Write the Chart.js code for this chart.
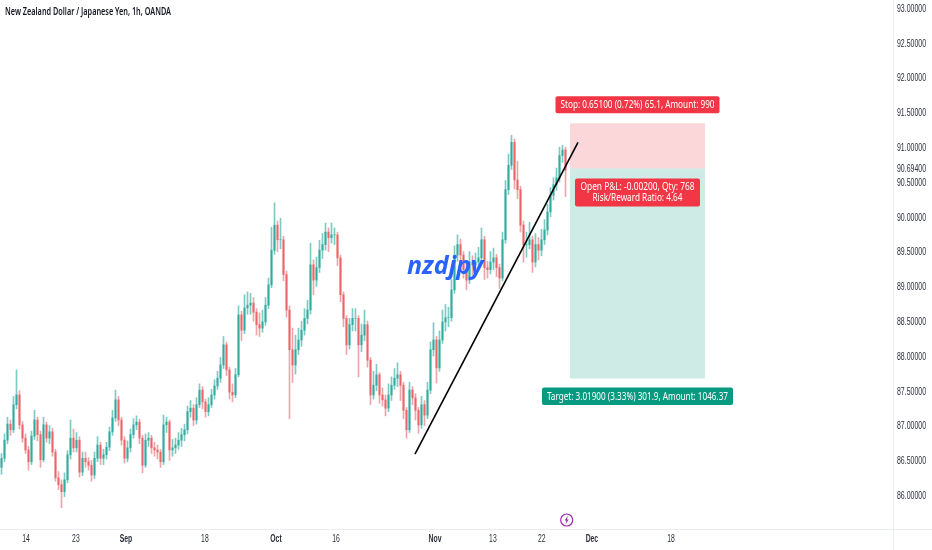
<!DOCTYPE html>
<html>
<head>
<meta charset="utf-8">
<style>
html, body { margin: 0; padding: 0; background: #fff; }
canvas { display: block; filter: blur(0.3px); }
</style>
<script src="https://cdn.jsdelivr.net/npm/chart.js@4/dist/chart.umd.min.js"></script>
</head>
<body>
<canvas id="chart" width="932" height="550"></canvas>
<script>
// hourly candles squeezed into one value per 3px
const opens = [
86.40,86.53,86.79,87.02,86.94,87.30,87.44,87.01,86.82,86.65,86.48,86.85,87.08,86.87,86.51,87.01,86.82,86.91,86.62,86.25,
86.15,86.05,86.22,86.58,86.82,86.68,86.79,86.33,86.53,86.48,86.43,86.29,86.53,86.72,86.53,86.58,86.69,86.91,87.11,87.37,
87.08,86.79,86.53,86.68,86.87,87.01,87.05,86.82,86.43,86.79,86.82,86.68,86.65,86.62,86.48,87.01,87.05,86.65,86.68,86.72,
86.79,86.87,86.94,87.20,87.25,87.08,87.30,87.51,87.34,87.20,87.30,87.44,87.57,87.68,87.87,88.16,87.80,87.48,87.44,87.73,
88.59,88.37,88.69,88.73,88.76,88.63,88.45,88.40,88.49,88.73,89.02,89.52,89.88,89.67,89.67,89.17,88.66,88.09,87.87,88.09,
88.23,88.37,88.54,88.66,89.31,89.09,89.27,89.52,89.60,89.78,89.70,89.74,89.74,89.41,88.88,88.54,88.16,88.45,88.54,88.54,
88.16,88.30,88.45,87.94,87.44,87.58,87.73,87.44,87.37,87.25,87.44,87.58,87.68,87.73,87.58,87.22,86.94,87.51,87.40,87.22,
87.01,87.30,87.15,87.51,88.09,88.23,87.83,88.23,88.49,88.55,88.55,88.95,89.45,89.60,89.45,89.24,89.09,89.35,89.31,89.35,
89.41,89.67,89.27,89.24,89.35,89.41,89.27,89.12,89.67,90.39,90.74,91.07,90.53,90.39,89.88,89.60,89.60,89.67,89.35,89.60,
89.52,89.67,89.81,90.07,90.31,90.46,90.56,90.88,90.96
];
const closes = [
86.53,86.79,87.02,86.94,87.30,87.44,87.01,86.82,86.65,86.48,86.85,87.08,86.87,86.51,87.01,86.82,86.91,86.62,86.25,86.15,
86.05,86.22,86.58,86.82,86.68,86.79,86.33,86.53,86.48,86.43,86.29,86.53,86.72,86.53,86.58,86.69,86.91,87.11,87.37,87.08,
86.79,86.53,86.68,86.87,87.01,87.05,86.82,86.43,86.79,86.82,86.68,86.65,86.62,86.48,87.01,87.05,86.65,86.68,86.72,86.79,
86.87,86.94,87.20,87.25,87.08,87.30,87.51,87.34,87.20,87.30,87.44,87.57,87.68,87.87,88.16,87.80,87.48,87.44,87.73,88.59,
88.37,88.69,88.73,88.76,88.63,88.45,88.40,88.49,88.73,89.02,89.52,89.88,89.67,89.67,89.17,88.66,88.09,87.87,88.09,88.23,
88.37,88.54,88.66,89.31,89.09,89.27,89.52,89.60,89.78,89.70,89.74,89.74,89.41,88.88,88.54,88.16,88.45,88.54,88.54,88.16,
88.30,88.45,87.94,87.44,87.58,87.73,87.44,87.37,87.25,87.44,87.58,87.68,87.73,87.58,87.22,86.94,87.51,87.40,87.22,87.01,
87.30,87.15,87.51,88.09,88.23,87.83,88.23,88.49,88.55,88.55,88.95,89.45,89.60,89.45,89.24,89.09,89.35,89.31,89.35,89.41,
89.67,89.27,89.24,89.35,89.41,89.27,89.12,89.67,90.39,90.74,91.07,90.53,90.39,89.88,89.60,89.60,89.67,89.35,89.60,89.52,
89.67,89.81,90.07,90.31,90.46,90.56,90.88,90.96,90.67
];
const highs = [
86.60,86.88,87.12,87.08,87.42,87.80,87.50,87.06,86.88,86.70,86.92,87.22,87.12,86.92,87.12,87.05,87.00,86.96,86.66,86.34,
86.22,86.32,86.64,87.08,86.95,86.90,86.84,86.62,86.62,86.54,86.50,86.62,86.84,86.76,86.66,86.76,86.98,87.22,87.51,87.42,
87.12,86.84,86.78,86.95,87.10,87.14,87.09,86.86,86.88,86.90,86.86,86.76,86.72,86.66,87.15,87.12,87.08,86.80,86.82,86.90,
86.96,87.02,87.28,87.36,87.30,87.40,87.60,87.56,87.38,87.40,87.52,87.66,87.78,87.98,88.28,88.20,87.84,87.60,87.82,88.72,
88.64,88.88,88.92,88.90,88.84,88.68,88.62,88.66,88.84,89.12,89.85,90.20,89.94,89.98,89.72,89.22,88.72,88.40,88.30,88.40,
88.50,88.68,88.80,89.62,89.38,89.42,89.66,89.76,89.91,89.84,89.91,89.84,89.78,89.45,88.92,88.58,88.54,88.68,88.68,88.58,
88.46,88.66,88.50,87.98,87.78,87.88,87.76,87.54,87.44,87.60,87.70,87.82,87.90,87.78,87.62,87.26,87.62,87.56,87.46,87.26,
87.42,87.36,87.62,88.20,88.48,88.28,88.36,88.66,88.74,88.70,89.10,89.58,89.74,89.68,89.50,89.32,89.50,89.44,89.48,89.56,
89.84,89.72,89.36,89.50,89.55,89.46,89.32,89.78,90.52,90.90,91.17,91.12,90.80,90.44,89.94,89.78,89.92,89.72,89.76,89.70,
89.82,89.96,90.18,90.42,90.56,90.70,91.00,91.03,91.00
];
const lows = [
86.30,86.48,86.74,86.86,86.90,87.24,86.95,86.76,86.60,86.36,86.44,86.80,86.78,86.40,86.48,86.76,86.74,86.56,86.20,86.08,
85.82,85.98,86.18,86.52,86.62,86.62,86.26,86.28,86.40,86.36,86.20,86.24,86.48,86.44,86.44,86.52,86.64,86.86,87.06,87.00,
86.72,86.46,86.48,86.62,86.82,86.94,86.74,86.32,86.40,86.70,86.60,86.56,86.52,86.40,86.44,86.90,86.50,86.56,86.60,86.66,
86.70,86.78,86.88,87.12,87.00,87.02,87.26,87.24,87.12,87.14,87.26,87.38,87.52,87.62,87.82,87.72,87.38,87.34,87.40,87.70,
88.22,88.32,88.60,88.60,88.50,88.30,88.28,88.34,88.44,88.68,88.98,89.46,89.50,89.54,89.08,88.56,87.10,87.62,87.74,88.02,
88.14,88.30,88.46,88.60,88.88,89.00,89.20,89.40,89.52,89.50,89.62,89.60,89.30,88.78,88.42,88.02,88.10,88.36,88.36,87.70,
88.06,88.22,87.84,87.30,87.38,87.50,87.32,87.28,87.14,87.20,87.36,87.52,87.56,87.36,87.10,86.82,86.90,87.30,87.08,86.89,
86.96,87.00,87.10,87.46,88.00,87.61,87.78,88.18,88.36,88.42,88.50,88.90,89.36,89.30,89.12,88.95,89.04,89.16,89.20,89.26,
89.36,89.10,89.12,89.18,89.24,89.14,88.97,89.08,89.62,90.32,90.68,90.40,90.26,89.78,89.35,89.42,89.54,89.20,89.28,89.38,
89.44,89.60,89.74,90.00,90.24,90.38,90.50,90.78,90.29
];

const yTicks = [86, 86.5, 87, 87.5, 88, 88.5, 89, 89.5, 90, 90.5, 90.694, 91, 91.5, 92, 92.5, 93];
const xTickPos = [8.2, 24.8, 41.5, 67.8, 91.5, 111.5, 144.5, 163.8, 180.1, 196.8, 223.2];
const xTickLabels = ['14', '23', 'Sep', '18', 'Oct', '16', 'Nov', '13', '22', 'Dec', '18'];
const monthLabels = ['Sep', 'Oct', 'Nov', 'Dec'];

// short position tool and the drawn trend line
const entryPrice = 90.694;
const stopPrice = 91.345;
const targetPrice = 87.675;
const positionX = [189.5, 234.5];
const trendX = [137.83, 192.17];
const trendY = [86.59, 91.07];
const eventX = 188.4;

const candleColors = closes.map((c, i) => c >= opens[i] ? 'rgba(38,166,154,.85)' : 'rgba(239,83,80,.8)');
const wickColors = closes.map((c, i) => c >= opens[i] ? 'rgba(38,166,154,.6)' : 'rgba(225,90,100,.55)');

function roundBox(ctx, x, y, w, h, color) {
    ctx.fillStyle = color;
    ctx.beginPath();
    ctx.roundRect(x, y, w, h, 2);
    ctx.fill();
}

function fitText(ctx, text, cx, cy, width) {
    ctx.textAlign = 'center';
    ctx.textBaseline = 'middle';
    ctx.fillText(text, cx, cy, width);
}

const overlay = {
    id: 'overlay',
    afterDatasetsDraw(chart) {
        const ctx = chart.ctx;
        const x = chart.scales.x;
        const y = chart.scales.y;
        const cx = (x.getPixelForValue(positionX[0]) + x.getPixelForValue(positionX[1])) / 2;
        ctx.save();

        // axis lines run through to the window edges
        ctx.strokeStyle = '#e9ecf2';
        ctx.lineWidth = 1;
        ctx.beginPath();
        ctx.moveTo(893.5, 529);
        ctx.lineTo(893.5, 550);
        ctx.moveTo(893, 529.5);
        ctx.lineTo(932, 529.5);
        ctx.stroke();

        // the axis font is much narrower than anything installed, so squeeze the labels
        ctx.fillStyle = '#2a2e39';
        ctx.font = '10px "Liberation Sans"';
        ctx.textAlign = 'left';
        ctx.textBaseline = 'middle';
        y.ticks.forEach((t, i) => ctx.fillText(t.label, 897, y.getPixelForTick(i) + 1, 29));
        ctx.textAlign = 'center';
        x.ticks.forEach((t, i) => {
            const month = monthLabels.includes(t.label);
            ctx.font = (month ? 'bold ' : '') + '10px "Liberation Sans"';
            const w = ctx.measureText(t.label).width * 0.68;
            ctx.fillText(t.label, x.getPixelForTick(i), 539.5, w);
        });

        ctx.fillStyle = '#131722';
        ctx.font = '600 10px "Noto Sans"';
        ctx.textAlign = 'left';
        ctx.fillText('New Zealand Dollar / Japanese Yen, 1h, OANDA', 5, 12.5, 166);

        ctx.fillStyle = '#2962ff';
        ctx.font = 'italic bold 25px "Noto Sans"';
        ctx.textBaseline = 'alphabetic';
        ctx.fillText('nzdjpy', 407, 274, 77);

        ctx.font = '11px "Noto Sans"';
        const stopY = y.getPixelForValue(stopPrice);
        roundBox(ctx, cx - 82, stopY - 27, 164, 17, '#f23645');
        ctx.fillStyle = '#fff';
        fitText(ctx, 'Stop: 0.65100 (0.72%) 65.1, Amount: 990', cx, stopY - 18.5, 154);

        const entryY = y.getPixelForValue(entryPrice);
        roundBox(ctx, cx - 62.5, entryY + 10, 125, 28, '#f23645');
        ctx.fillStyle = '#fff';
        fitText(ctx, 'Open P&L: -0.00200, Qty: 768', cx, entryY + 18.5, 114);
        fitText(ctx, 'Risk/Reward Ratio: 4.64', cx, entryY + 29, 90);

        const targetY = y.getPixelForValue(targetPrice);
        roundBox(ctx, cx - 95.5, targetY + 9, 191, 17.5, '#089981');
        ctx.fillStyle = '#fff';
        fitText(ctx, 'Target: 3.01900 (3.33%) 301.9, Amount: 1046.37', cx, targetY + 18, 181);

        // lightning marker sitting on the time axis
        const ex = x.getPixelForValue(eventX);
        ctx.strokeStyle = '#9c27b0';
        ctx.lineWidth = 1.2;
        ctx.beginPath();
        ctx.arc(ex, 520, 6, 0, Math.PI * 2);
        ctx.fillStyle = '#fff';
        ctx.fill();
        ctx.stroke();
        ctx.fillStyle = '#9c27b0';
        ctx.beginPath();
        ctx.moveTo(ex + 1.2, 515.5);
        ctx.lineTo(ex - 2, 520.6);
        ctx.lineTo(ex - 0.2, 520.6);
        ctx.lineTo(ex - 1.2, 524.5);
        ctx.lineTo(ex + 2, 519.4);
        ctx.lineTo(ex + 0.2, 519.4);
        ctx.closePath();
        ctx.fill();
        ctx.restore();
    }
};

new Chart(document.getElementById('chart'), {
    type: 'bar',
    data: {
        datasets: [
            {
                type: 'line',
                data: positionX.map(v => ({ x: v, y: stopPrice })),
                fill: { value: entryPrice },
                backgroundColor: 'rgba(242,54,69,.2)',
                borderWidth: 0,
                pointRadius: 0,
                order: 5
            },
            {
                type: 'line',
                data: positionX.map(v => ({ x: v, y: targetPrice })),
                fill: { value: entryPrice },
                backgroundColor: 'rgba(8,153,129,.2)',
                borderWidth: 0,
                pointRadius: 0,
                order: 5
            },
            {
                data: opens.map((o, i) => ({ x: i, y: [o, closes[i]] })),
                backgroundColor: candleColors,
                barThickness: 1.4,
                grouped: false,
                order: 4
            },
            {
                data: highs.map((h, i) => ({ x: i, y: [lows[i], h] })),
                backgroundColor: wickColors,
                barThickness: 1,
                grouped: false,
                order: 3
            },
            {
                type: 'line',
                data: trendX.map((v, i) => ({ x: v, y: trendY[i] })),
                borderColor: '#000',
                borderWidth: 1.6,
                pointRadius: 0,
                order: 1
            }
        ]
    },
    options: {
        responsive: false,
        animation: false,
        devicePixelRatio: 1,
        layout: { padding: 0 },
        plugins: {
            legend: { display: false },
            tooltip: { enabled: false }
        },
        scales: {
            x: {
                type: 'linear',
                offset: false,
                min: -0.5,
                max: 297.17,
                grid: { display: false },
                border: { color: '#e9ecf2' },
                afterBuildTicks: scale => {
                    scale.ticks = xTickPos.map(v => ({ value: v }));
                },
                afterFit: scale => { scale.height = 21; },
                ticks: {
                    display: false,
                    autoSkip: false,
                    callback: (v, i) => xTickLabels[i]
                }
            },
            y: {
                position: 'right',
                min: 85.514,
                max: 93.115,
                grid: { display: false },
                border: { color: '#e9ecf2' },
                afterBuildTicks: scale => {
                    scale.ticks = yTicks.map(v => ({ value: v }));
                },
                afterFit: scale => { scale.width = 39; },
                ticks: {
                    display: false,
                    autoSkip: false,
                    callback: v => v.toFixed(5)
                }
            }
        }
    },
    plugins: [overlay]
});
</script>
</body>
</html>
